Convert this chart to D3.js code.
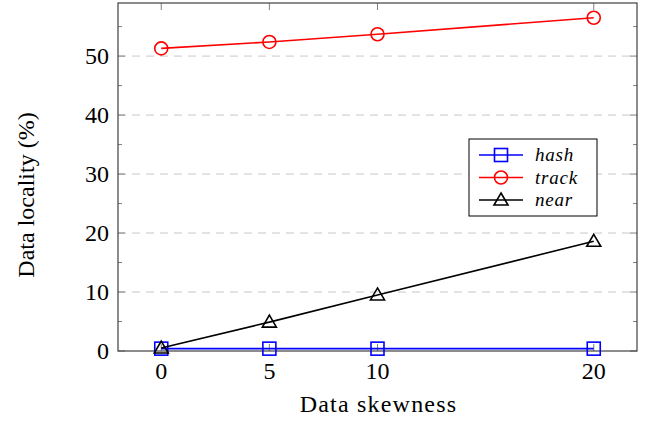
<!DOCTYPE html>
<html>
<head>
<meta charset="utf-8">
<script src="https://cdn.jsdelivr.net/npm/d3@7"></script>
<style>
  body { margin: 0; background: #fff; }
  text { font-family: "Liberation Serif", "DejaVu Serif", serif; }
</style>
</head>
<body>
<script>
const skew = [0, 5, 10, 20];
const hashVals = [0.4, 0.4, 0.4, 0.4];
const trackVals = [51.3, 52.4, 53.7, 56.5];
const nearVals = [0.5, 4.9, 9.5, 18.6];
const yTicks = [0, 10, 20, 30, 40, 50];
const yMinor = [5, 15, 25, 35, 45, 55];

const width = 646, height = 423;
const margin = {left: 118, right: 9, top: 3, bottom: 72};

const svg = d3.select("body").append("svg")
  .attr("width", width)
  .attr("height", height);

const x = d3.scaleLinear().domain([-2, 22]).range([margin.left, width - margin.right]);
const y = d3.scaleLinear().domain([0, 59]).range([height - margin.bottom, margin.top]);

const x0 = margin.left, x1 = width - margin.right;
const y0 = height - margin.bottom, y1 = margin.top;

// grid
svg.append("g")
  .selectAll("line")
  .data(yTicks.filter(d => d > 0))
  .enter().append("line")
    .attr("x1", x0).attr("x2", x1)
    .attr("y1", d => y(d)).attr("y2", d => y(d))
    .attr("stroke", "#c8c8c8")
    .attr("stroke-width", 1)
    .attr("stroke-dasharray", "8,6")

// tick marks (inward), left + right
const tickColor = "#808080";
function yTickMarks(vals, len) {
  svg.append("g").selectAll("line").data(vals).enter().append("line")
    .attr("x1", x0).attr("x2", x0 + len)
    .attr("y1", d => y(d)).attr("y2", d => y(d))
    .attr("stroke", tickColor);
  svg.append("g").selectAll("line").data(vals).enter().append("line")
    .attr("x1", x1).attr("x2", x1 - len)
    .attr("y1", d => y(d)).attr("y2", d => y(d))
    .attr("stroke", tickColor);
}
yTickMarks(yTicks, 7);
yTickMarks(yMinor, 4);

svg.append("g").selectAll("line").data(skew).enter().append("line")
  .attr("x1", d => x(d)).attr("x2", d => x(d))
  .attr("y1", y0).attr("y2", y0 - 7)
  .attr("stroke", tickColor);
svg.append("g").selectAll("line").data(skew).enter().append("line")
  .attr("x1", d => x(d)).attr("x2", d => x(d))
  .attr("y1", y1).attr("y2", y1 + 7)
  .attr("stroke", tickColor);

// frame
svg.append("rect")
  .attr("x", x0).attr("y", y1)
  .attr("width", x1 - x0).attr("height", y0 - y1)
  .attr("fill", "none")
  .attr("stroke", "#404040")
  .attr("stroke-width", 1.2)

// tick labels
svg.append("g").selectAll("text").data(yTicks).enter().append("text")
  .attr("x", x0 - 9)
  .attr("y", d => y(d))
  .attr("dy", "0.34em")
  .attr("text-anchor", "end")
  .attr("font-size", 24)
  .text(d => d);

svg.append("g").selectAll("text").data(skew).enter().append("text")
  .attr("x", d => x(d))
  .attr("y", y0 + 28)
  .attr("text-anchor", "middle")
  .attr("font-size", 24)
  .text(d => d);

// axis titles
svg.append("text")
  .attr("x", (x0 + x1) / 2 + 1)
  .attr("y", 412)
  .attr("text-anchor", "middle")
  .attr("font-size", 24)
  .attr("letter-spacing", 1.2)
  .text("Data skewness");

svg.append("text")
  .attr("transform", "translate(34,195) rotate(-90)")
  .attr("text-anchor", "middle")
  .attr("font-size", 24)
  .text("Data locality (%)");

// series
const series = [
  {name: "hash", vals: hashVals, color: "#0000ff", mark: "square"},
  {name: "track", vals: trackVals, color: "#ff0000", mark: "circle"},
  {name: "near", vals: nearVals, color: "#000000", mark: "triangle"}
];

const line = d3.line().x(d => x(d[0])).y(d => y(d[1]));

function drawMarker(g, kind, cx, cy, color) {
  if (kind === "square") {
    g.append("rect").attr("x", cx - 6.5).attr("y", cy - 6.5)
      .attr("width", 13).attr("height", 13)
      .attr("fill", "none").attr("stroke", color).attr("stroke-width", 1.6);
  } else if (kind === "circle") {
    g.append("circle").attr("cx", cx).attr("cy", cy).attr("r", 6.5)
      .attr("fill", "none").attr("stroke", color).attr("stroke-width", 1.6);
  } else {
    g.append("path")
      .attr("d", `M${cx},${cy - 7}L${cx + 7},${cy + 5}L${cx - 7},${cy + 5}Z`)
      .attr("fill", "none").attr("stroke", color).attr("stroke-width", 1.6);
  }
}

series.forEach(s => {
  const pts = skew.map((k, i) => [k, s.vals[i]]);
  const g = svg.append("g");
  g.append("path")
    .datum(pts)
    .attr("d", line)
    .attr("fill", "none")
    .attr("stroke", s.color)
    .attr("stroke-width", 1.6);
  pts.forEach(p => drawMarker(g, s.mark, x(p[0]), y(p[1]), s.color));
});

// legend
const legend = svg.append("g").attr("transform", "translate(469,139)");
legend.append("rect")
  .attr("width", 128).attr("height", 77)
  .attr("fill", "#fff").attr("stroke", "#000").attr("stroke-width", 1);

series.forEach((s, i) => {
  const ly = 16 + i * 22.5;
  const g = legend.append("g");
  g.append("line").attr("x1", 10).attr("x2", 54).attr("y1", ly).attr("y2", ly)
    .attr("stroke", s.color).attr("stroke-width", 1.6);
  drawMarker(g, s.mark, 32, ly, s.color);
  g.append("text")
    .attr("x", 66).attr("y", ly)
    .attr("dy", "0.32em")
    .attr("font-size", 19)
    .attr("font-style", "italic")
    .attr("letter-spacing", 0.8)
    .text(s.name);
});
</script>
</body>
</html>
